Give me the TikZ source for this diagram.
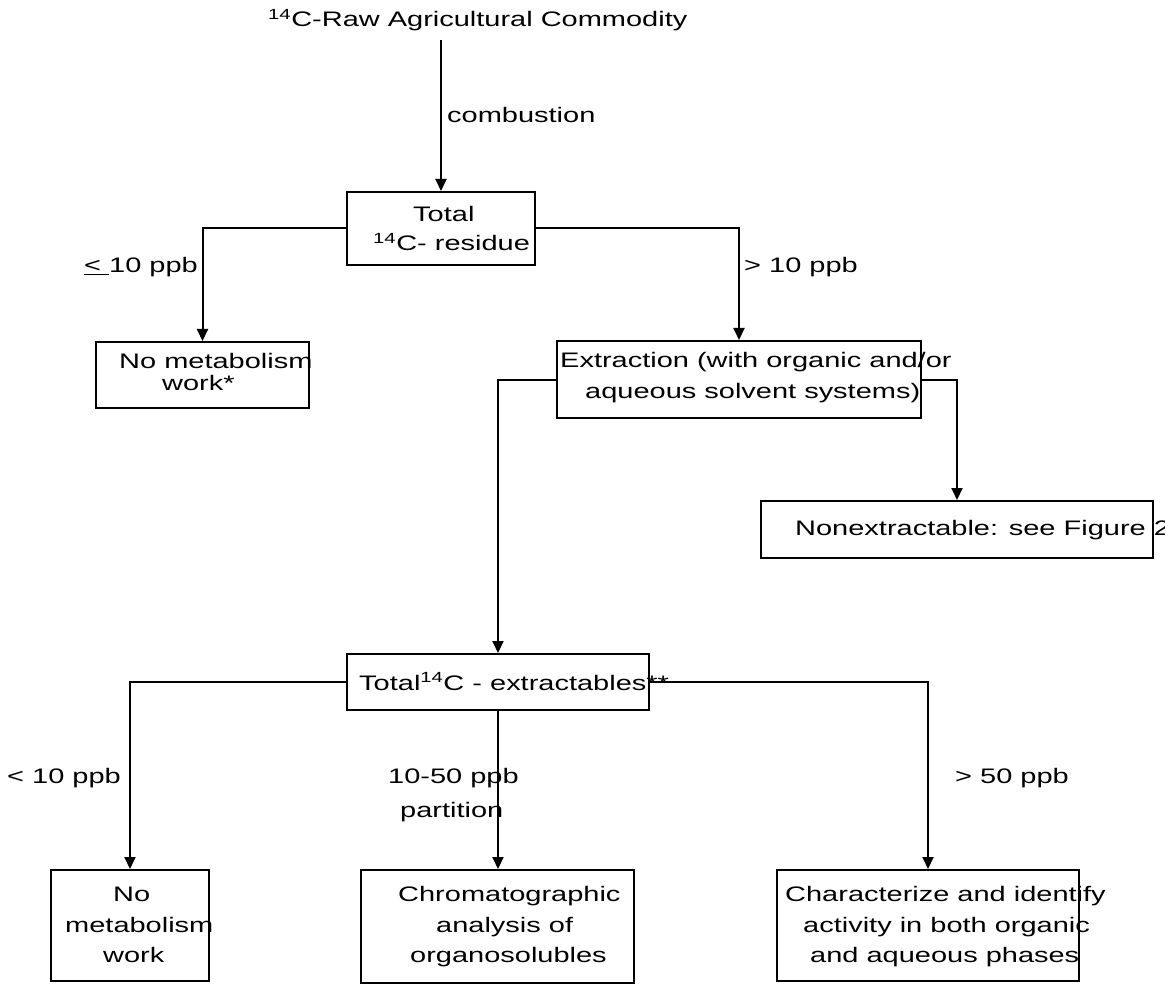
\documentclass[tikz,border=0pt]{standalone}
\usepackage{fontspec}
\setmainfont[FakeStretch=1.38]{Liberation Sans}
\usetikzlibrary{arrows.meta}
\begin{document}
\begin{tikzpicture}[x=1pt,y=-1pt,
  box/.style={draw,line width=2pt,inner sep=0pt,anchor=north west},
  lbl/.style={anchor=base west,inner sep=0pt,font=\fontsize{21}{31}\selectfont},
  conn/.style={line width=2pt},
  arr/.style={conn,-{Triangle[length=12pt,width=11pt]}}]
\useasboundingbox (0,0) rectangle (1165,984);
% boxes
\node[box,minimum width=188pt,minimum height=73pt] (tot) at (346,191) {};
\node[box,minimum width=213pt,minimum height=66pt] (nm1) at (95,341) {};
\node[box,minimum width=364pt,minimum height=77pt] (ext) at (556,340) {};
\node[box,minimum width=392pt,minimum height=57pt] (nx) at (760,500) {};
\node[box,minimum width=302pt,minimum height=56pt] (te) at (346,653) {};
\node[box,minimum width=158pt,minimum height=111pt] (b1) at (50,869) {};
\node[box,minimum width=273pt,minimum height=113pt] (b2) at (360,869) {};
\node[box,minimum width=302pt,minimum height=111pt] (b3) at (776,869) {};
% texts
\node[lbl] (title) at (268,27) {\textsuperscript{14}C-Raw Agricultural Commodity};
\node[lbl] (comb) at (447,123) {combustion};
\node[lbl] (tot1) at (413,222) {Total};
\node[lbl] (tot2) at (373,251) {\textsuperscript{14}C- residue};
\node[lbl] (le10) at (84,273) {\underline{<\ }10 ppb};
\node[lbl] (nm1a) at (119,368) {No metabolism};
\node[lbl] (nm1b) at (162,391) {work*};
\node[lbl] (gt10) at (744,273) {> 10 ppb};
\node[lbl] (ext1) at (560,367) {Extraction (with organic and/or};
\node[lbl] (ext2) at (585,398) {aqueous solvent systems)};
\node[lbl] (nxt) at (795,535) {Nonextractable: see Figure 2};
\node[lbl] (tet) at (359,690) {Total\textsuperscript{14}C - extractables**};
\node[lbl] (lt10) at (7,783) {< 10 ppb};
\node[lbl] (r1050) at (388,783) {10-50 ppb};
\node[lbl] (part) at (400,817) {partition};
\node[lbl] (gt50) at (955,783) {> 50 ppb};
\node[lbl] (b1a) at (113,901) {No};
\node[lbl] (b1b) at (65,932) {metabolism};
\node[lbl] (b1c) at (103,962) {work};
\node[lbl] (b2a) at (398,901) {Chromatographic};
\node[lbl] (b2b) at (436,932) {analysis of};
\node[lbl] (b2c) at (410,962) {organosolubles};
\node[lbl] (b3a) at (785,901) {Characterize and identify};
\node[lbl] (b3b) at (803,932) {activity in both organic};
\node[lbl] (b3c) at (810,962) {and aqueous phases};
% connectors
\coordinate (top) at (tot.north |- 0,40);
\draw[arr] (top) -- (tot.north);
\draw[arr] (tot.west) -| (nm1.north);
\draw[arr] (tot.east) -| (ext.north);
\draw[arr] (ext.west) -| (te.north);
\draw[arr] (ext.east) -| (nx.north);
\draw[arr] (te.west) -| (b1.north);
\draw[arr] (te.south) -- (te.south |- b2.north);
\draw[arr] (te.east) -| (b3.north);
\end{tikzpicture}
\end{document}
